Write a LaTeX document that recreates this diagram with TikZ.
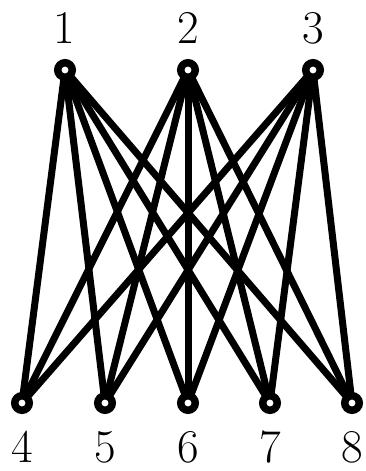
\documentclass[tikz,border=0pt]{standalone}
\begin{document}
\begin{tikzpicture}[x=1pt,y=-1pt,
  vert/.style={circle,draw=black,fill=white,line width=7.5pt,inner sep=0pt,minimum size=14.5pt},
  edge/.style={line width=7pt,line cap=round},
  lab/.style={font=\fontsize{47}{50}\selectfont,inner sep=0pt}]
\useasboundingbox (0,0) rectangle (366,471);
\coordinate (p1) at (65,70);
\coordinate (p2) at (188,70);
\coordinate (p3) at (313,70);
\coordinate (p4) at (22,403);
\coordinate (p5) at (105,403);
\coordinate (p6) at (188,403);
\coordinate (p7) at (270,403);
\coordinate (p8) at (352,403);
\foreach \a in {1,2,3}{\foreach \b in {4,...,8}{\draw[edge] (p\a) -- (p\b);}}
\foreach \i in {1,...,8}{\node[vert] (v\i) at (p\i) {};}
\node[lab] (l1) at (64,28) {1};
\node[lab] (l2) at (188,28) {2};
\node[lab] (l3) at (313,28) {3};
\node[lab] (l4) at (22,447) {4};
\node[lab] (l5) at (105,447) {5};
\node[lab] (l6) at (188,447) {6};
\node[lab] (l7) at (270,447) {7};
\node[lab] (l8) at (352,447) {8};
\end{tikzpicture}
\end{document}
